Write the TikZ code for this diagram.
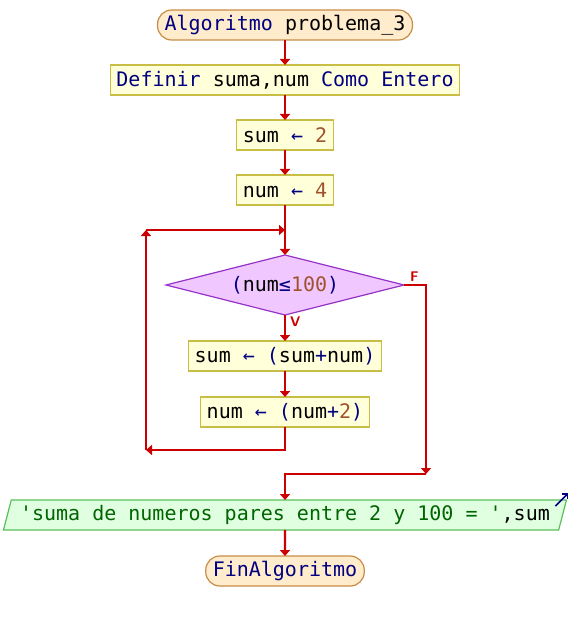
\documentclass[tikz,border=0pt]{standalone}
\usepackage{fontspec}
\setmonofont{DejaVu Sans Mono}
\usetikzlibrary{arrows.meta,positioning,shapes.geometric,calc}
\definecolor{flowred}{RGB}{204,0,0}
\definecolor{kwnavy}{RGB}{0,0,128}
\definecolor{numbrown}{RGB}{160,82,45}
\definecolor{strgreen}{RGB}{0,100,0}
\newcommand{\kwd}[1]{\textcolor{kwnavy}{#1}}
\newcommand{\numc}[1]{\textcolor{numbrown}{#1}}
\newcommand{\strc}[1]{\textcolor{strgreen}{#1}}
\tikzset{
  term/.style={draw={rgb,255:red,200;green,140;blue,70},fill={rgb,255:red,255;green,236;blue,204},
    line width=1.2pt,outer sep=0pt,rounded corners=14pt,minimum height=30pt,inner xsep=7pt,
    inner ysep=0pt,font=\ttfamily\fontsize{20}{24}\selectfont},
  proc/.style={draw={rgb,255:red,200;green,190;blue,70},fill={rgb,255:red,255;green,255;blue,218},
    line width=1.2pt,outer sep=0pt,minimum height=30pt,inner xsep=6pt,inner ysep=0pt,
    font=\ttfamily\fontsize{20}{24}\selectfont},
  cond/.style={diamond,aspect=4,draw={rgb,255:red,150;green,50;blue,200},
    fill={rgb,255:red,240;green,200;blue,255},line width=1.2pt,outer sep=0pt,
    minimum width=238pt,minimum height=60pt,inner sep=0pt,
    font=\ttfamily\fontsize{20}{24}\selectfont},
  outp/.style={trapezium,trapezium left angle=68,trapezium right angle=112,
    trapezium stretches body,draw={rgb,255:red,90;green,190;blue,90},line width=1.2pt,
    outer sep=0pt,fill={rgb,255:red,224;green,255;blue,224},minimum width=563pt,
    minimum height=30pt,inner sep=0pt,font=\ttfamily\fontsize{20}{24}\selectfont},
  flow/.style={-{Triangle[length=6pt,width=10pt]},line width=2.4pt,flowred},
  tag/.style={font=\sffamily\bfseries\fontsize{14}{15}\selectfont,flowred,inner sep=1pt},
}
\begin{document}
\begin{tikzpicture}[x=1pt,y=-1pt]
  \useasboundingbox (0,0) rectangle (572,620);

  \node[term] (start) at (285,25) {\kwd{Algoritmo} problema\_3};
  \node[proc,below=25pt of start] (def) {\kwd{Definir} suma,num \kwd{Como Entero}};
  \node[proc,below=25pt of def] (sum) {sum \kwd{←} \numc{2}};
  \node[proc,below=25pt of sum] (num) {num \kwd{←} \numc{4}};
  \node[cond,below=50pt of num] (test) {\kwd{(}num\kwd{≤}\numc{100}\kwd{)}};
  \node[proc,below=26pt of test] (sumupd) {sum \kwd{←} \kwd{(}sum\kwd{+}num\kwd{)}};
  \node[proc,below=26pt of sumupd] (numupd) {num \kwd{←} \kwd{(}num\kwd{+}\numc{2}\kwd{)}};
  \node[outp,below=73pt of numupd] (out) {\strc{'suma de numeros pares entre 2 y 100 = '},sum};
  \node[term,below=26pt of out] (fin) {\kwd{FinAlgoritmo}};

  % loop corners and merge point
  \coordinate (loopTL) at (146,230);
  \coordinate (loopBL) at (146,450);
  \coordinate (loopJ) at (num.south |- loopTL);
  \coordinate (merge) at (426,474);

  \draw[flow] (start) -- (def);
  \draw[flow] (def) -- (sum);
  \draw[flow] (sum) -- (num);
  \draw[flow] (num) -- (test);
  \draw[flow] (test.south) -- (sumupd);
  \draw[flow] (sumupd) -- (numupd);
  \draw[flow] (numupd.south) |- (loopBL);
  \draw[flow] (loopBL) -- (loopTL);
  \draw[flow] (loopTL) -- (loopJ);
  \draw[flow] (test.east) -| (merge);
  \draw[flow] (merge) -| (out.north);
  \draw[flow] (out) -- (fin);

  \node[tag,above right=2pt and 5pt of test.east] (lblF) {F};
  \node[tag,below right=1pt and 4pt of test.south] (lblV) {V};

  % output marker
  \draw[kwnavy,line width=1.5pt,-{Straight Barb[length=4pt]}]
    ($(out.top right corner)+(-11,6)$) -- ($(out.top right corner)+(2,-7)$);
\end{tikzpicture}
\end{document}
